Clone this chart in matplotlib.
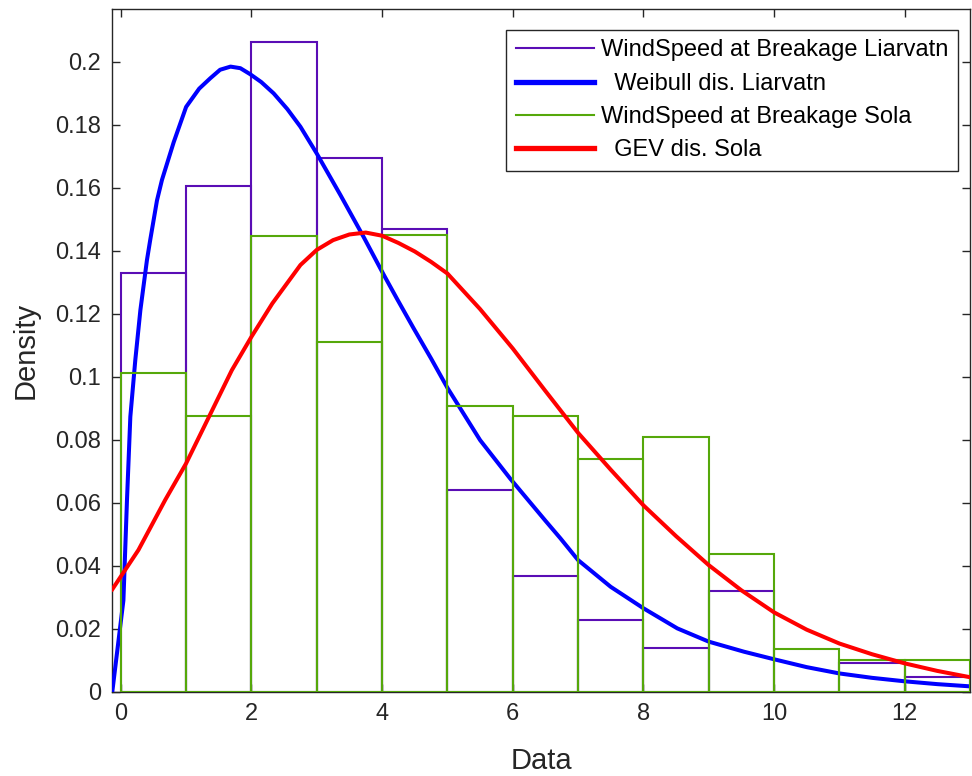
import matplotlib
matplotlib.use("Agg")
import matplotlib.pyplot as plt
from matplotlib.lines import Line2D

plt.rcParams['font.family'] = ['Liberation Sans', 'DejaVu Sans']

# histogram bins (left edges, width 1)
bin_left = [0, 1, 2, 3, 4, 5, 6, 7, 8, 9, 10, 11, 12]
dens_liarvatn = [0.1331, 0.1605, 0.2063, 0.1696, 0.1469, 0.0642, 0.0367,
                 0.0229, 0.0138, 0.0321, 0.0, 0.0092, 0.0047]
dens_sola = [0.1011, 0.0875, 0.1448, 0.111, 0.145, 0.0908, 0.0875,
             0.074, 0.0808, 0.0437, 0.0135, 0.0101, 0.0101]

# fitted weibull curve (Liarvatn)
wb_x = [-0.13, 0.04, 0.095, 0.146, 0.222, 0.30, 0.40, 0.45, 0.554, 0.63,
        0.81, 1.0, 1.2, 1.37, 1.52, 1.68, 1.83, 1.98, 2.15, 2.34, 2.55, 2.75,
        3.0, 3.36, 3.72, 4.02, 4.23, 4.48, 4.75, 5.0, 5.5, 5.96, 6.5, 6.73, 7.0,
        7.5, 8.0, 8.52, 9.0, 9.54, 10.0, 10.5, 11.0, 11.5, 12.0, 12.5, 13.0]
wb_y = [0.0, 0.029, 0.061, 0.0873, 0.1053, 0.1212, 0.137, 0.1434, 0.156, 0.1625,
        0.1745, 0.1857, 0.1915, 0.1948, 0.1975, 0.1985, 0.1980, 0.1961, 0.1936, 0.190,
        0.185, 0.1794, 0.1709, 0.1578, 0.1443, 0.1326, 0.1247, 0.1155, 0.1058, 0.0965,
        0.0799, 0.0677, 0.0543, 0.0487, 0.0418, 0.0333, 0.0265, 0.0201, 0.0159, 0.0127,
        0.0103, 0.0078, 0.0058, 0.0044, 0.0033, 0.0024, 0.0017]

# fitted GEV curve (Sola)
gev_x = [-0.13, 0.27, 0.68, 1.0, 1.35, 1.7, 2.0, 2.32, 2.75, 3.0, 3.25, 3.5,
         3.75, 4.0, 4.25, 4.5, 4.75, 5.0, 5.5, 6.0, 6.5, 7.0, 7.5, 8.0, 8.5,
         9.0, 9.5, 10.0, 10.5, 11.0, 11.5, 12.0, 12.5, 13.0]
gev_y = [0.0325, 0.045, 0.0609, 0.0725, 0.0873, 0.1021, 0.1127, 0.1233, 0.1355,
         0.1403, 0.1434, 0.1452, 0.1458, 0.1448, 0.1425, 0.1398, 0.1365, 0.1328,
         0.1215, 0.109, 0.0955, 0.0822, 0.0705, 0.0592, 0.0494, 0.0402, 0.0322,
         0.0252, 0.0197, 0.0153, 0.0119, 0.009, 0.0066, 0.0046]

purple = '#5A0DB5'
green = '#55A80A'
ink = '#262626'

fig = plt.figure(figsize=(9.72, 7.76), dpi=100)
ax = fig.add_axes([112.3 / 972, 84.3 / 776, (970 - 112.3) / 972, (691.7 - 9.3) / 776])

ax.bar(bin_left, dens_liarvatn, width=1, align='edge', fill=False,
       edgecolor=purple, linewidth=1.5, zorder=2)
ax.plot(wb_x, wb_y, color='#0000FF', linewidth=2.9, zorder=3)
ax.bar(bin_left, dens_sola, width=1, align='edge', fill=False,
       edgecolor=green, linewidth=1.5, zorder=4)
ax.plot(gev_x, gev_y, color='#FF0000', linewidth=2.9, zorder=5)

ax.set_xlim(-0.13, 13.0)
ax.set_ylim(0, 0.2167)
ax.set_xticks([0, 2, 4, 6, 8, 10, 12])
yt = [0, 0.02, 0.04, 0.06, 0.08, 0.1, 0.12, 0.14, 0.16, 0.18, 0.2]
ax.set_yticks(yt)
ax.set_yticklabels(['0'] + ['%g' % v for v in yt[1:]])

ax.tick_params(direction='in', length=6, width=1, colors=ink, labelsize=17,
               top=True, right=True, pad=8)
for s in ax.spines.values():
    s.set_color(ink)
    s.set_linewidth(1)

ax.set_xlabel('Data', fontsize=21, color=ink, labelpad=16)
ax.set_ylabel('Density', fontsize=21, color=ink, labelpad=11)

handles = [Line2D([], [], color=purple, linewidth=1.5),
           Line2D([], [], color='#0000FF', linewidth=3.8),
           Line2D([], [], color=green, linewidth=1.5),
           Line2D([], [], color='#FF0000', linewidth=3.8)]
labels = ['WindSpeed at Breakage Liarvatn', '  Weibull dis. Liarvatn',
          'WindSpeed at Breakage Sola', '  GEV dis. Sola']
leg = ax.legend(handles, labels, loc='upper right',
                bbox_to_anchor=((957.7 - 112.3) / (970 - 112.3), (691.7 - 30) / (691.7 - 9.3)),
                bbox_transform=ax.transAxes, fontsize=17, fancybox=False,
                framealpha=1, edgecolor=ink, handlelength=3.3, handletextpad=0.3,
                borderpad=0.4, labelspacing=0.48, borderaxespad=0)
leg.get_frame().set_linewidth(1)

fig.savefig('out.png', dpi=100)
